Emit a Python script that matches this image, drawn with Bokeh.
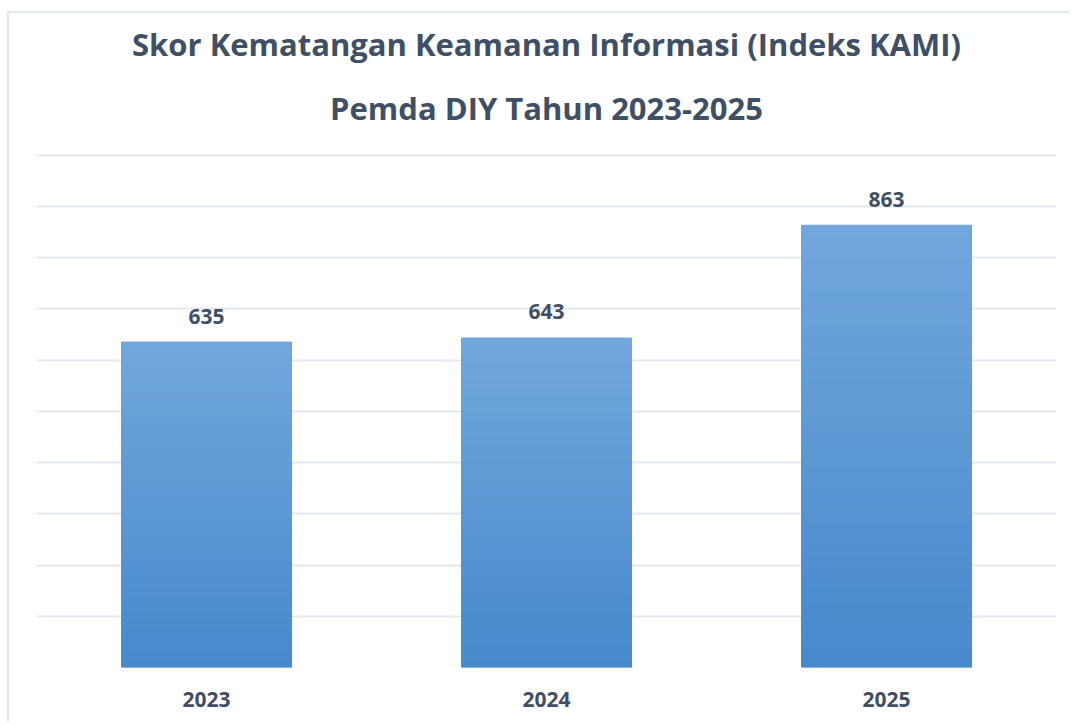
from bokeh.plotting import figure
from bokeh.models import ColumnDataSource, FactorRange, Range1d, Title
from bokeh.core.properties import value
from bokeh.embed import file_html
from bokeh.resources import INLINE

years = ["2023", "2024", "2025"]
scores = [635, 643, 863]
title_line1 = "Skor Kematangan Keamanan Informasi (Indeks KAMI)"
title_line2 = "Pemda DIY Tahun 2023-2025"

TXT = "#3f4f66"
FONT = "Open Sans"
top_rgb = (0x72, 0xa7, 0xdd)
bot_rgb = (0x46, 0x89, 0xcb)

# gradient slices built from the data values
N = 40
xs, bottoms, tops, colors = [], [], [], []
for yr, v in zip(years, scores):
    for i in range(N):
        t = (i + 0.5) / N
        c = tuple(int(round(b + (tp - b) * t)) for b, tp in zip(bot_rgb, top_rgb))
        xs.append(yr)
        bottoms.append(v * i / N)
        tops.append(v * (i + 1) / N)
        colors.append("#%02x%02x%02x" % c)
src = ColumnDataSource(dict(x=xs, bottom=bottoms, top=tops, color=colors))
lab = ColumnDataSource(dict(x=years, y=scores, t=[str(s) for s in scores]))

p = figure(width=1062, height=710, x_range=FactorRange(factors=years, range_padding=0),
           y_range=Range1d(0, 1003), output_backend="svg", toolbar_location=None,
           min_border_left=27, min_border_right=15, min_border_top=140, min_border_bottom=56)
p.styles = {"border-top": "2px solid #e3e7ee", "border-left": "2px solid #e3e7ee",
            "margin-top": "11px", "margin-left": "7px"}
p.outline_line_color = None
p.background_fill_color = "white"

p.title.text = title_line1
p.title.align = "center"
p.title.vertical_align = "bottom"
p.title.text_font = FONT
p.title.text_font_size = "31px"
p.title.text_font_style = "bold"
p.title.text_color = TXT
p.title.standoff = 0
p.add_layout(Title(text=title_line2, align="center", vertical_align="top", text_font=FONT,
                   text_font_size="31px", text_font_style="bold", text_color=TXT,
                   standoff=45), "above")

p.vbar(x="x", bottom="bottom", top="top", width=0.5, source=src,
       fill_color="color", line_color="color", line_width=1)
p.text(x="x", y="y", text="t", source=lab, text_align="center", text_baseline="alphabetic",
       y_offset=-26, text_font=value(FONT), text_font_size="21px", text_font_style="bold",
       text_color=TXT)

p.yaxis.visible = False
p.ygrid.ticker = [0, 100, 200, 300, 400, 500, 600, 700, 800, 900, 1000]
p.ygrid.grid_line_color = "#e3e7ee"
p.ygrid.grid_line_width = 2
p.xgrid.grid_line_color = None
p.xaxis.axis_line_color = None
p.xaxis.major_tick_line_color = None
p.xaxis.minor_tick_line_color = None
p.xaxis.major_label_standoff = 18
p.xaxis.major_label_text_font = FONT
p.xaxis.major_label_text_font_size = "21px"
p.xaxis.major_label_text_font_style = "bold"
p.xaxis.major_label_text_color = TXT

open("out.html", "w").write(file_html(p, INLINE))
